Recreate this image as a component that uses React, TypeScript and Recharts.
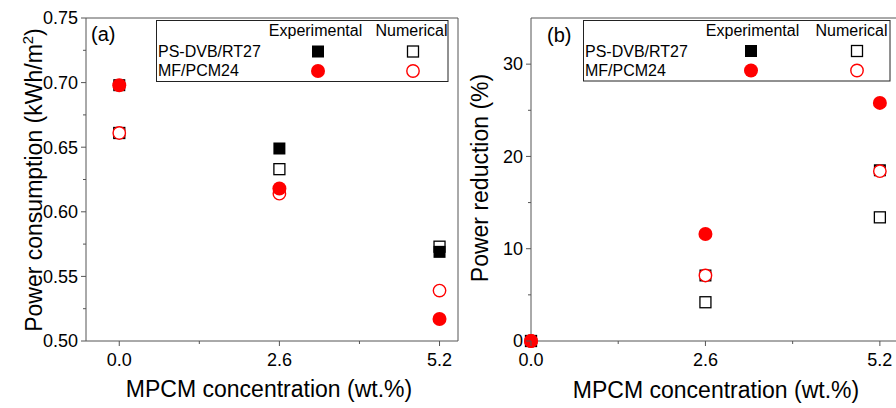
import React from 'react';
import { ScatterChart, Scatter, XAxis, YAxis, ReferenceLine } from 'recharts';

// MPCM concentration (wt.%)
const conc = [0, 2.6, 5.2];

// (a) power consumption, kWh/m2
const psExpA = [0.698, 0.649, 0.569];
const psNumA = [0.661, 0.633, 0.573];
const mfExpA = [0.698, 0.618, 0.517];
const mfNumA = [0.661, 0.614, 0.539];

// (b) power reduction, %
const psExpB = [0, 7.1, 18.5];
const psNumB = [0, 4.2, 13.4];
const mfExpB = [0, 11.6, 25.8];
const mfNumB = [0, 7.1, 18.4];

const xTicks = [0, 1.3, 2.6, 3.9, 5.2];
const xMajor = [0, 2.6, 5.2];
const yTicksA = [0.5, 0.525, 0.55, 0.575, 0.6, 0.625, 0.65, 0.675, 0.7, 0.725, 0.75];
const yMajorA = [0.5, 0.55, 0.6, 0.65, 0.7, 0.75];
const yTicksB = [0, 5, 10, 15, 20, 25, 30];
const yMajorB = [0, 10, 20, 30];

const AX = '#555';
const FONT = '"Liberation Sans", Arial, sans-serif';

const pts = (ys: number[]) => conc.map((x, i) => ({ x, y: ys[i] }));
const isMajor = (list: number[], v: number) => list.some(m => Math.abs(m - v) < 1e-6);

function xTick(major: number[], fmt: (v: number) => string) {
  return (p: any) => {
    const v = p.payload.value;
    const big = isMajor(major, v);
    return (
      <g>
        <line x1={p.x} x2={p.x} y1={p.y} y2={p.y + (big ? 5 : 3)} stroke={AX} />
        {big && <text x={p.x} y={p.y + 25} textAnchor="middle" fontSize={18} fill="#000" fontFamily={FONT}>{fmt(v)}</text>}
      </g>
    );
  };
}

function yTick(major: number[], fmt: (v: number) => string) {
  return (p: any) => {
    const v = p.payload.value;
    const big = isMajor(major, v);
    return (
      <g>
        <line x1={p.x} x2={p.x - (big ? 5 : 3)} y1={p.y} y2={p.y} stroke={AX} />
        {big && <text x={p.x - 8} y={p.y} dy="0.35em" textAnchor="end" fontSize={18} fill="#000" fontFamily={FONT}>{fmt(v)}</text>}
      </g>
    );
  };
}

const FilledSquare = (p: any) => <rect x={p.cx - 6} y={p.cy - 6} width={12} height={12} fill="#000" />;
const OpenSquare = (p: any) => <rect x={p.cx - 5.5} y={p.cy - 5.5} width={11} height={11} fill="#fff" stroke="#000" strokeWidth={1.3} />;
const FilledCircle = (p: any) => <circle cx={p.cx} cy={p.cy} r={7} fill="#ff0000" />;
const OpenCircle = (p: any) => <circle cx={p.cx} cy={p.cy} r={6.2} fill="#fff" stroke="#ff0000" strokeWidth={1.4} />;

function LegendBox({ x, y, w, h, labelX, expX, numX, mExp, mNum, dy }: any) {
  const t = { fontSize: 16, fill: '#000', fontFamily: FONT };
  return (
    <g>
      <rect x={x} y={y} width={w} height={h} fill="#fff" stroke="#222" strokeWidth={1} />
      <text x={expX} y={36 + dy} textAnchor="middle" {...t}>Experimental</text>
      <text x={numX} y={36 + dy} textAnchor="middle" {...t}>Numerical</text>
      <text x={labelX} y={57 + dy} {...t}>PS-DVB/RT27</text>
      <text x={labelX} y={76 + dy} {...t}>MF/PCM24</text>
      <FilledSquare cx={mExp} cy={51.5 + dy} />
      <OpenSquare cx={mNum} cy={51.5 + dy} />
      <FilledCircle cx={mExp} cy={71 + dy} />
      <OpenCircle cx={mNum} cy={71 + dy} />
    </g>
  );
}

export default function App() {
  const lbl = { fontSize: 23, fill: '#000', fontFamily: FONT };
  return (
    <div style={{ position: 'fixed', left: 0, top: 0, width: 896, height: 408, overflow: 'hidden', background: '#fff', fontFamily: FONT }}>
      <div style={{ position: 'absolute', left: 0, top: 0 }}>
        <ScatterChart width={470} height={408} margin={{ top: 18, right: 12, bottom: 0, left: 0 }}>
          <XAxis type="number" dataKey="x" domain={[-0.54, 5.5]} ticks={xTicks} interval={0} height={67}
            stroke={AX} tickSize={0} tickMargin={0} tickLine={false} tick={xTick(xMajor, v => v.toFixed(1))} />
          <YAxis type="number" dataKey="y" domain={[0.5, 0.75]} ticks={yTicksA} interval={0} width={86}
            stroke={AX} tickSize={0} tickMargin={0} tickLine={false} tick={yTick(yMajorA, v => v.toFixed(2))} />
          <ReferenceLine y={0.75} stroke={AX} />
          <ReferenceLine x={5.5} stroke={AX} />
          <Scatter data={pts(psNumA)} shape={OpenSquare} isAnimationActive={false} />
          <Scatter data={pts(psExpA)} shape={FilledSquare} isAnimationActive={false} />
          <Scatter data={pts(mfNumA)} shape={OpenCircle} isAnimationActive={false} />
          <Scatter data={pts(mfExpA)} shape={FilledCircle} isAnimationActive={false} />
        </ScatterChart>
      </div>
      <div style={{ position: 'absolute', left: 450, top: 0 }}>
        <ScatterChart width={450} height={408} margin={{ top: 18, right: 0, bottom: 0, left: 0 }}>
          <XAxis type="number" dataKey="x" domain={[0, 5.5]} ticks={xTicks} interval={0} height={67}
            stroke={AX} tickSize={0} tickMargin={0} tickLine={false} tick={xTick(xMajor, v => v.toFixed(1))} />
          <YAxis type="number" dataKey="y" domain={[0, 35]} ticks={yTicksB} interval={0} width={81}
            stroke={AX} tickSize={0} tickMargin={0} tickLine={false} tick={yTick(yMajorB, v => String(v))} />
          <ReferenceLine y={35} stroke={AX} />
          <Scatter data={pts(psNumB)} shape={OpenSquare} isAnimationActive={false} />
          <Scatter data={pts(psExpB)} shape={FilledSquare} isAnimationActive={false} />
          <Scatter data={pts(mfNumB)} shape={OpenCircle} isAnimationActive={false} />
          <Scatter data={pts(mfExpB)} shape={FilledCircle} isAnimationActive={false} />
        </ScatterChart>
      </div>
      <svg width={896} height={408} style={{ position: 'absolute', left: 0, top: 0, pointerEvents: 'none' }}>
        <text x={91} y={41} fontSize={20} fill="#000" fontFamily={FONT}>(a)</text>
        <text x={547} y={42} fontSize={20} fill="#000" fontFamily={FONT}>(b)</text>
        <LegendBox x={156.5} y={20.5} w={291.5} h={61} labelX={158} expX={315.5} numX={411.5} mExp={318} mNum={413} dy={0} />
        <LegendBox x={583.5} y={20.5} w={306.5} h={60.5} labelX={585} expX={752.5} numX={851.5} mExp={751} mNum={857} dy={-0.5} />
        <text x={42} y={180} transform="rotate(-90 42 180)" textAnchor="middle" {...lbl}>
          Power consumption (kWh/m<tspan dy={-9} fontSize={15}>2</tspan><tspan dy={9}>)</tspan>
        </text>
        <text x={488} y={178} transform="rotate(-90 488 178)" textAnchor="middle" {...lbl}>Power reduction (%)</text>
        <text x={269} y={397} textAnchor="middle" {...lbl}>MPCM concentration (wt.%)</text>
        <text x={716} y={398} textAnchor="middle" {...lbl}>MPCM concentration (wt.%)</text>
      </svg>
    </div>
  );
}
